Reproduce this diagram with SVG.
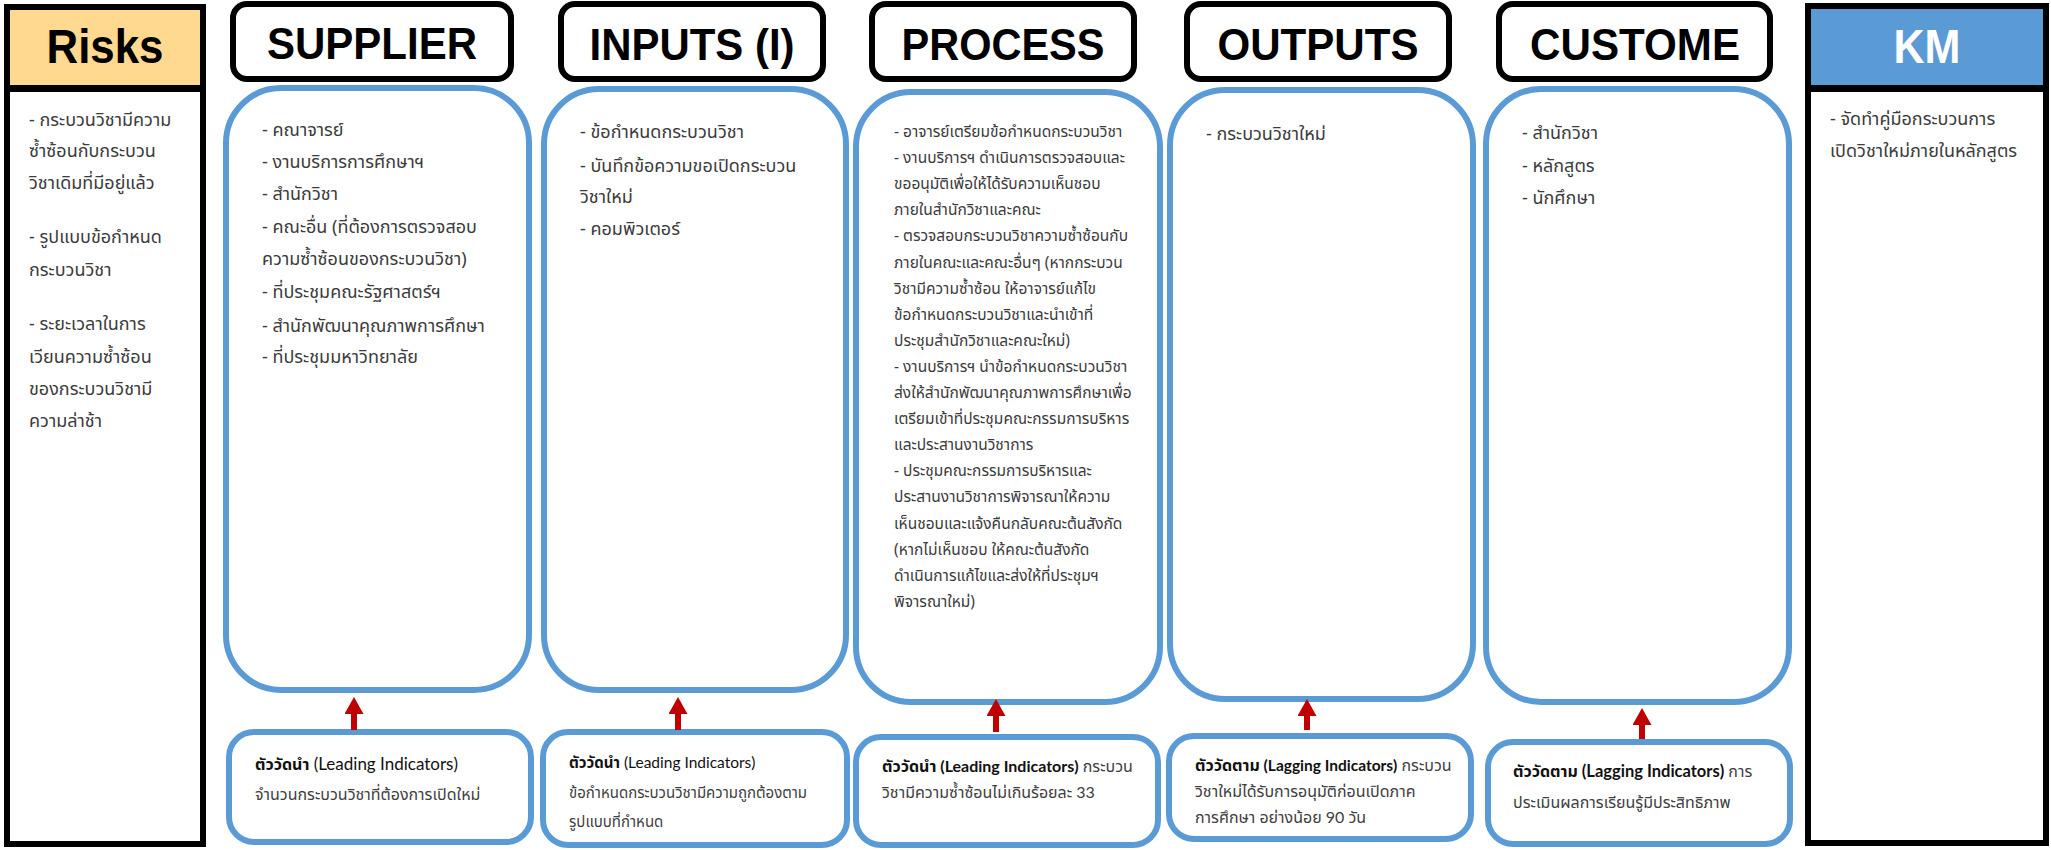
<svg xmlns="http://www.w3.org/2000/svg" width="2051" height="850" viewBox="0 0 2051 850">
<defs>
<style>
.hdr{fill:#fff;stroke:#000;stroke-width:6}
.frame{fill:none;stroke:#000;stroke-width:6}
.box{fill:#fff;stroke:#5B9BD5;stroke-width:6}
.ht{font-family:'Liberation Sans',Arial,sans-serif;font-weight:bold;font-size:45px;text-anchor:middle;fill:#000}
.th{font-family:'Noto Sans','Noto Sans Thai',sans-serif;font-size:18px;fill:#3b3b3b}
.tp{font-family:'Noto Sans','Noto Sans Thai',sans-serif;font-size:15.5px;fill:#3b3b3b}
.ind{font-family:'Lato','Noto Sans Thai',sans-serif;font-size:16px;fill:#404040}
.b{font-weight:bold;fill:#111}
.en{fill:#111;font-size:17px}
.arr{stroke:#C00000;stroke-width:6;fill:none}
</style>
<marker id="ah" viewBox="0 0 17 19" markerWidth="17" markerHeight="19" refX="0" refY="9.5" orient="auto" markerUnits="userSpaceOnUse">
<path d="M0,0 L17,9.5 L0,19 z" fill="#C00000"/>
</marker>
</defs>
<rect width="2051" height="850" fill="#fff"/>

<g id="risks">
<rect x="7" y="7" width="196" height="81" fill="#FFD98F"/>
<rect x="7" y="7" width="196" height="837" class="frame"/>
<line x1="7" y1="88.5" x2="203" y2="88.5" stroke="#000" stroke-width="7"/>
<text x="105" y="63" class="ht" style="font-size:49px" textLength="117" lengthAdjust="spacingAndGlyphs">Risks</text>
<text class="th" x="29" y="126">- กระบวนวิชามีความ</text>
<text class="th" x="29" y="157">ซ้ำซ้อนกับกระบวน</text>
<text class="th" x="29" y="189">วิชาเดิมที่มีอยู่แล้ว</text>
<text class="th" x="29" y="243">- รูปแบบข้อกำหนด</text>
<text class="th" x="29" y="276">กระบวนวิชา</text>
<text class="th" x="29" y="330">- ระยะเวลาในการ</text>
<text class="th" x="29" y="363">เวียนความซ้ำซ้อน</text>
<text class="th" x="29" y="395">ของกระบวนวิชามี</text>
<text class="th" x="29" y="427">ความล่าช้า</text>
</g>

<g id="supplier">
<rect x="233" y="4" width="278" height="75" rx="14" class="hdr"/>
<text x="372" y="59" class="ht" textLength="210" lengthAdjust="spacingAndGlyphs">SUPPLIER</text>
<rect x="226" y="88" width="303" height="602" rx="55" class="box"/>
<text class="th" x="262" y="136">- คณาจารย์</text>
<text class="th" x="262" y="168">- งานบริการการศึกษาฯ</text>
<text class="th" x="262" y="200">- สำนักวิชา</text>
<text class="th" x="262" y="233">- คณะอื่น (ที่ต้องการตรวจสอบ</text>
<text class="th" x="262" y="265">ความซ้ำซ้อนของกระบวนวิชา)</text>
<text class="th" x="262" y="298">- ที่ประชุมคณะรัฐศาสตร์ฯ</text>
<text class="th" x="262" y="332">- สำนักพัฒนาคุณภาพการศึกษา</text>
<text class="th" x="262" y="363">- ที่ประชุมมหาวิทยาลัย</text>
</g>

<g id="inputs">
<rect x="561" y="4" width="262" height="75" rx="14" class="hdr"/>
<text x="692" y="60" class="ht" textLength="205" lengthAdjust="spacingAndGlyphs">INPUTS (I)</text>
<rect x="544" y="89" width="302" height="601" rx="55" class="box"/>
<text class="th" x="580" y="138">- ข้อกำหนดกระบวนวิชา</text>
<text class="th" x="580" y="172">- บันทึกข้อความขอเปิดกระบวน</text>
<text class="th" x="580" y="203">วิชาใหม่</text>
<text class="th" x="580" y="235">- คอมพิวเตอร์</text>
</g>

<g id="process">
<rect x="872" y="4" width="262" height="75" rx="14" class="hdr"/>
<text x="1003" y="60" class="ht" textLength="203" lengthAdjust="spacingAndGlyphs">PROCESS</text>
<rect x="856" y="92" width="304" height="610" rx="55" class="box"/>
<text class="tp" x="894" y="137">- อาจารย์เตรียมข้อกำหนดกระบวนวิชา</text>
<text class="tp" x="894" y="163.1">- งานบริการฯ ดำเนินการตรวจสอบและ</text>
<text class="tp" x="894" y="189.2">ขออนุมัติเพื่อให้ได้รับความเห็นชอบ</text>
<text class="tp" x="894" y="215.3">ภายในสำนักวิชาและคณะ</text>
<text class="tp" x="894" y="241.4">- ตรวจสอบกระบวนวิชาความซ้ำซ้อนกับ</text>
<text class="tp" x="894" y="267.5">ภายในคณะและคณะอื่นๆ (หากกระบวน</text>
<text class="tp" x="894" y="293.6">วิชามีความซ้ำซ้อน ให้อาจารย์แก้ไข</text>
<text class="tp" x="894" y="319.7">ข้อกำหนดกระบวนวิชาและนำเข้าที่</text>
<text class="tp" x="894" y="345.8">ประชุมสำนักวิชาและคณะใหม่)</text>
<text class="tp" x="894" y="371.9">- งานบริการฯ นำข้อกำหนดกระบวนวิชา</text>
<text class="tp" x="894" y="398">ส่งให้สำนักพัฒนาคุณภาพการศึกษาเพื่อ</text>
<text class="tp" x="894" y="424.1">เตรียมเข้าที่ประชุมคณะกรรมการบริหาร</text>
<text class="tp" x="894" y="450.2">และประสานงานวิชาการ</text>
<text class="tp" x="894" y="476.3">- ประชุมคณะกรรมการบริหารและ</text>
<text class="tp" x="894" y="502.4">ประสานงานวิชาการพิจารณาให้ความ</text>
<text class="tp" x="894" y="528.5">เห็นชอบและแจ้งคืนกลับคณะต้นสังกัด</text>
<text class="tp" x="894" y="554.6">(หากไม่เห็นชอบ ให้คณะต้นสังกัด</text>
<text class="tp" x="894" y="580.7">ดำเนินการแก้ไขและส่งให้ที่ประชุมฯ</text>
<text class="tp" x="894" y="606.8">พิจารณาใหม่)</text>
</g>

<g id="outputs">
<rect x="1187" y="4" width="262" height="75" rx="14" class="hdr"/>
<text x="1318" y="60" class="ht" textLength="201" lengthAdjust="spacingAndGlyphs">OUTPUTS</text>
<rect x="1170" y="90" width="303" height="609" rx="55" class="box"/>
<text class="th" x="1206" y="140">- กระบวนวิชาใหม่</text>
</g>

<g id="customer">
<rect x="1499" y="4" width="271" height="75" rx="14" class="hdr"/>
<text x="1635" y="60" class="ht" textLength="210" lengthAdjust="spacingAndGlyphs">CUSTOME</text>
<rect x="1486" y="89" width="303" height="613" rx="55" class="box"/>
<text class="th" x="1522" y="139">- สำนักวิชา</text>
<text class="th" x="1522" y="172">- หลักสูตร</text>
<text class="th" x="1522" y="204">- นักศึกษา</text>
</g>

<g id="km">
<rect x="1808" y="6" width="238" height="82" fill="#5B9BD5"/>
<rect x="1808" y="6" width="238" height="837" class="frame"/>
<line x1="1808" y1="88.5" x2="2046" y2="88.5" stroke="#000" stroke-width="7"/>
<text x="1927" y="63" class="ht" style="font-size:49px;fill:#fff" textLength="67" lengthAdjust="spacingAndGlyphs">KM</text>
<text class="th" x="1830" y="125">- จัดทำคู่มือกระบวนการ</text>
<text class="th" x="1830" y="157">เปิดวิชาใหม่ภายในหลักสูตร</text>
</g>

<g id="ind-supplier">
<rect x="229" y="732" width="302" height="110" rx="25" class="box"/>
<text class="ind" x="255" y="770"><tspan class="b">ตัววัดนำ</tspan><tspan class="en"> (Leading Indicators)</tspan></text>
<text class="ind" x="255" y="800">จำนวนกระบวนวิชาที่ต้องการเปิดใหม่</text>
</g>

<g id="ind-inputs">
<rect x="543" y="732" width="304" height="113" rx="25" class="box"/>
<text class="ind" x="569" y="768" style="font-size:15px"><tspan class="b">ตัววัดนำ</tspan><tspan class="en" style="font-size:15.5px"> (Leading Indicators)</tspan></text>
<text class="ind" x="569" y="798" style="font-size:15px">ข้อกำหนดกระบวนวิชามีความถูกต้องตาม</text>
<text class="ind" x="569" y="827" style="font-size:15px">รูปแบบที่กำหนด</text>
</g>

<g id="ind-process">
<rect x="856" y="737" width="302" height="108" rx="25" class="box"/>
<text class="ind" x="882" y="772"><tspan class="b">ตัววัดนำ</tspan><tspan class="en b" style="font-size:16px"> (Leading Indicators)</tspan> กระบวน</text>
<text class="ind" x="882" y="798">วิชามีความซ้ำซ้อนไม่เกินร้อยละ 33</text>
</g>

<g id="ind-outputs">
<rect x="1169" y="736" width="302" height="103" rx="25" class="box"/>
<text class="ind" x="1195" y="771"><tspan class="b">ตัววัดตาม</tspan><tspan class="en b" style="font-size:15.5px"> (Lagging Indicators)</tspan> กระบวน</text>
<text class="ind" x="1195" y="797">วิชาใหม่ได้รับการอนุมัติก่อนเปิดภาค</text>
<text class="ind" x="1195" y="823">การศึกษา อย่างน้อย 90 วัน</text>
</g>

<g id="ind-customer">
<rect x="1488" y="742" width="302" height="102" rx="25" class="box"/>
<text class="ind" x="1513" y="777"><tspan class="b">ตัววัดตาม</tspan><tspan class="en b" style="font-size:16.5px"> (Lagging Indicators)</tspan> การ</text>
<text class="ind" x="1513" y="808">ประเมินผลการเรียนรู้มีประสิทธิภาพ</text>
</g>

<g id="connectors">
<line x1="354" y1="730" x2="354" y2="714" class="arr" marker-end="url(#ah)"/>
<line x1="678" y1="730" x2="678" y2="714" class="arr" marker-end="url(#ah)"/>
<line x1="996" y1="732" x2="996" y2="716" class="arr" marker-end="url(#ah)"/>
<line x1="1307" y1="730" x2="1307" y2="716" class="arr" marker-end="url(#ah)"/>
<line x1="1642" y1="739" x2="1642" y2="725" class="arr" marker-end="url(#ah)"/>
</g>
</svg>
